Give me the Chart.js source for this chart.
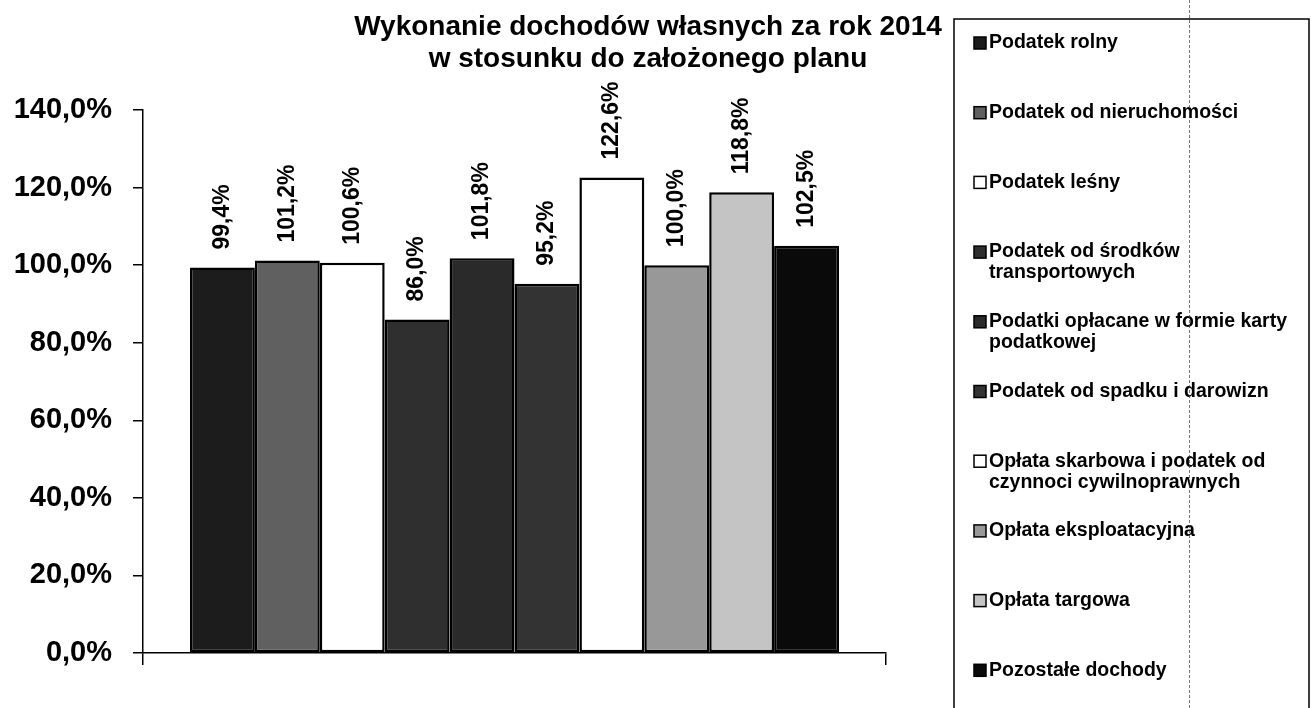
<!DOCTYPE html>
<html><head><meta charset="utf-8">
<script src="https://cdn.jsdelivr.net/npm/chart.js@4/dist/chart.umd.min.js"></script>
<style>html,body{margin:0;padding:0;background:#fff;} #wrap{width:1311px;height:708px;position:relative;overflow:hidden;}</style>
</head><body><div id="wrap"><canvas id="c" width="1311" height="708"></canvas></div>
<script>
const categories = [''];
const seriesNames = [
  'Podatek rolny',
  'Podatek od nieruchomości',
  'Podatek leśny',
  'Podatek od środków\ntransportowych',
  'Podatki opłacane w formie karty\npodatkowej',
  'Podatek od spadku i darowizn',
  'Opłata skarbowa i podatek od\nczynnoci cywilnoprawnych',
  'Opłata eksploatacyjna',
  'Opłata targowa',
  'Pozostałe dochody'
];
const seriesValues = [99.4, 101.2, 100.6, 86.0, 101.8, 95.2, 122.6, 100.0, 118.8, 105.0];
const valueLabels = ['99,4%', '101,2%', '100,6%', '86,0%', '101,8%', '95,2%', '122,6%', '100,0%', '118,8%', '102,5%'];
const yTickValues = [0, 20, 40, 60, 80, 100, 120, 140];
const titleLines = ['Wykonanie dochodów własnych za rok 2014', 'w stosunku do założonego planu'];
const seriesColors = ['#1c1c1c', '#606060', '#ffffff', '#2f2f2f', '#2a2a2a', '#333333', '#ffffff', '#989898', '#c4c4c4', '#0a0a0a'];

const FONT = '"Liberation Sans", Arial, sans-serif';

const datasets = seriesNames.map((n, i) => ({
  label: n.replace('\n', ' '),
  data: [seriesValues[i]],
  backgroundColor: seriesColors[i],
  borderColor: '#000',
  borderWidth: 2.5,
  borderSkipped: false,
  barPercentage: 1.0,
  categoryPercentage: 0.8735
}));

const extras = {
  id: 'extras',
  beforeDraw(chart) {
    const ctx = chart.ctx;
    ctx.save();
    ctx.fillStyle = '#fff';
    ctx.fillRect(0, 0, chart.width, chart.height);
    ctx.restore();
  },
  afterDraw(chart) {
    const ctx = chart.ctx;
    ctx.save();
    // title
    ctx.fillStyle = '#000';
    ctx.font = 'bold 28px ' + FONT;
    ctx.textAlign = 'center';
    ctx.textBaseline = 'alphabetic';
    ctx.fillText(titleLines[0], 648, 35);
    ctx.fillText(titleLines[1], 648, 67);
    // data labels
    ctx.font = 'bold 23px ' + FONT;
    chart.data.datasets.forEach((ds, i) => {
      const bar = chart.getDatasetMeta(i).data[0];
      ctx.save();
      ctx.translate(bar.x, bar.y - 18);
      ctx.rotate(-Math.PI / 2);
      ctx.textAlign = 'left';
      ctx.textBaseline = 'middle';
      ctx.fillText(valueLabels[i], 0, 0);
      ctx.restore();
    });
    // legend box
    ctx.strokeStyle = '#000';
    ctx.lineWidth = 1.5;
    ctx.beginPath();
    ctx.moveTo(954, 720);
    ctx.lineTo(954, 19);
    ctx.lineTo(1309, 19);
    ctx.lineTo(1309, 720);
    ctx.stroke();
    // legend items
    ctx.font = 'bold 19.5px ' + FONT;
    ctx.textAlign = 'left';
    ctx.textBaseline = 'middle';
    seriesNames.forEach((n, i) => {
      const y0 = 43 + 69.7 * i;
      ctx.fillStyle = seriesColors[i];
      ctx.fillRect(974, y0 - 6, 12, 12);
      ctx.lineWidth = 1.5;
      ctx.strokeStyle = '#000';
      ctx.strokeRect(974, y0 - 6, 12, 12);
      ctx.fillStyle = '#000';
      n.split('\n').forEach((line, k) => {
        ctx.fillText(line, 989, y0 + k * 21);
      });
    });
    // faint scan fold line
    ctx.strokeStyle = 'rgba(60,60,60,0.7)';
    ctx.lineWidth = 1;
    ctx.setLineDash([3, 2]);
    ctx.beginPath();
    ctx.moveTo(1189.5, 0);
    ctx.lineTo(1189.5, 708);
    ctx.stroke();
    ctx.restore();
  }
};

new Chart(document.getElementById('c'), {
  type: 'bar',
  data: { labels: categories, datasets },
  options: {
    responsive: false,
    animation: false,
    devicePixelRatio: 1,
    layout: { padding: { top: 110, right: 425, bottom: 0, left: 0 } },
    plugins: { legend: { display: false }, title: { display: false }, tooltip: { enabled: false } },
    scales: {
      x: {
        offset: true,
        grid: { display: true, drawOnChartArea: false, drawTicks: true, tickLength: 12, color: '#000', lineWidth: 1.5, offset: true },
        border: { display: true, color: '#000', width: 1.5 },
        ticks: { display: false },
        afterFit(s) { s.height = 55; }
      },
      y: {
        min: 0, max: 140,
        afterBuildTicks(s) { s.ticks = yTickValues.map(v => ({ value: v })); },
        ticks: {
          padding: 21, color: '#000',
          font: { family: FONT, size: 29, weight: 'bold' },
          callback: v => v.toFixed(1).replace('.', ',') + '%'
        },
        grid: { drawOnChartArea: false, drawTicks: true, tickLength: 10, color: '#000', lineWidth: 1.5 },
        border: { display: true, color: '#000', width: 1.5 },
        afterFit(s) { s.width = 143; }
      }
    }
  },
  plugins: [extras]
});
</script>
</body></html>
